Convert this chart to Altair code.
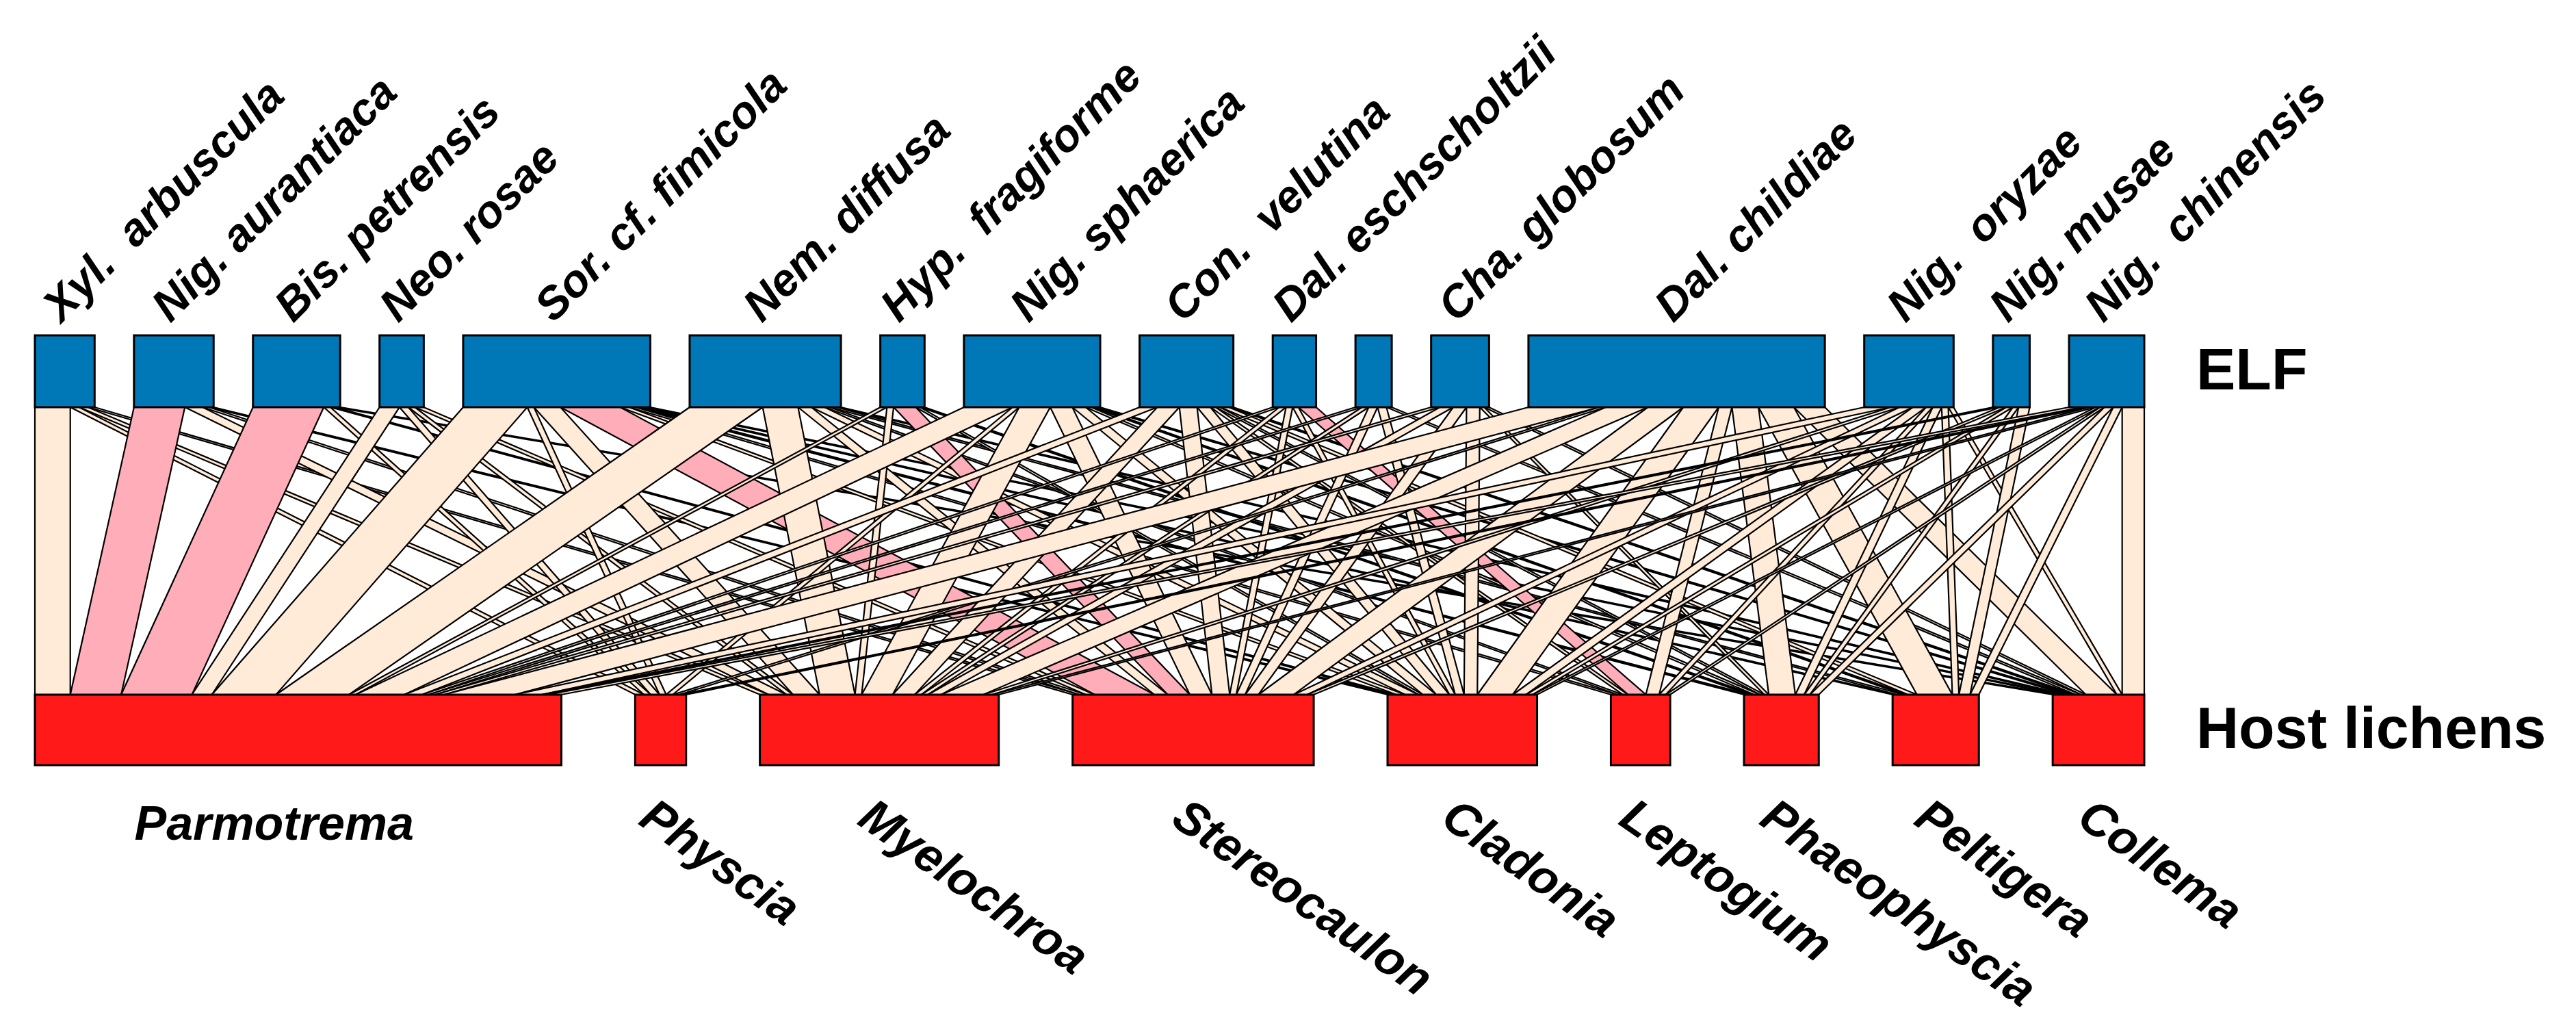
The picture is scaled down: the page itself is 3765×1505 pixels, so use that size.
import altair as alt
import numpy as np
import pandas as pd

# ---------------- data ----------------
elf_species = ["Xyl.\u00a0\u00a0arbuscula", "Nig. aurantiaca", "Bis. petrensis", "Neo. rosae",
               "Sor. cf. fimicola", "Nem. diffusa", "Hyp.\u00a0\u00a0fragiforme", "Nig. sphaerica",
               "Con.\u00a0\u00a0velutina", "Dal. eschscholtzii", "", "Cha. globosum",
               "Dal. childiae", "Nig.\u00a0\u00a0oryzae", "Nig. musae", "Nig.\u00a0\u00a0chinensis"]
host_genera = ["Parmotrema", "Physcia", "Myelochroa", "Stereocaulon", "Cladonia",
               "Leptogium", "Phaeophyscia", "Peltigera", "Collema"]

# interaction strengths of each ELF species with the host genera (host order as above)
xyl_arbuscula = [8, 2, 2, 1.5, 0, 0, 0, 0, 0]
nig_aurantiaca = [11.5, 0, 4, 1.5, 1, 0, 0, 0, 0]
bis_petrensis = [16, 1.5, 0, 0, 1, 0, 0, 0, 1.2]
neo_rosae = [4.5, 2, 1.5, 2, 0, 0, 0, 0, 0]
sor_fimicola = [14.5, 1.5, 6, 13.5, 2, 1.5, 1.3, 1, 1]
nem_diffusa = [16.5, 0, 8, 3, 3, 1.2, 0, 1.5, 1]
hyp_fragiforme = [1.5, 0, 1.5, 5, 1, 0, 1, 0, 0]
nig_sphaerica = [11, 1.5, 7, 5, 3, 0, 1.3, 1, 1]
con_velutina = [4, 0, 5, 4, 3, 1.2, 1, 2, 1]
dal_eschscholtzii = [1.5, 0, 1.5, 1.5, 1.3, 4, 0, 0, 0]
unlabelled_elf = [1.5, 0, 1.5, 2, 2, 0, 0, 0, 1.2]
cha_globosum = [2, 0, 3, 3, 3, 0, 1, 0, 1.1]
dal_childiae = [16, 1.5, 9.5, 8, 8, 3, 6, 8, 7]
nig_oryzae = [6, 0, 2, 3, 3, 1.5, 2, 1.5, 1.2]
nig_musae = [1.5, 0, 0, 1.5, 1.5, 0, 1.3, 2.5, 0]
nig_chinensis = [3, 1.5, 1.5, 0, 1, 1, 2, 2, 5]

highlighted_links = [(1, 0), (2, 0), (4, 3), (6, 3), (9, 5)]  # (ELF index, host index)

rows = [xyl_arbuscula, nig_aurantiaca, bis_petrensis, neo_rosae, sor_fimicola, nem_diffusa,
        hyp_fragiforme, nig_sphaerica, con_velutina, dal_eschscholtzii, unlabelled_elf,
        cha_globosum, dal_childiae, nig_oryzae, nig_musae, nig_chinensis]
M = np.array(rows, dtype=float)

# ---------------- layout (plotweb style) ----------------
W, H = 3745, 1488
T = M.sum()
row_tot = M.sum(axis=1)
col_tot = M.sum(axis=0)
gap_top = 8.9
S = T + gap_top * (len(elf_species) - 1)
gap_bot = (S - T) / (len(host_genera) - 1)
top_start = np.concatenate([[0], np.cumsum(row_tot + gap_top)[:-1]])
bot_start = np.concatenate([[0], np.cumsum(col_tot + gap_bot)[:-1]])

kx = 3083.0 / S          # pixels per unit
left_px = 43.0
xdom = [-left_px / kx, (W - left_px) / kx]

TOP_Y0, TOP_Y1 = 482, 587
BOT_Y0, BOT_Y1 = 1007, 1110

xs = alt.Scale(domain=xdom)
ys = alt.Scale(domain=[0, H], reverse=True)

# links
recs = []
k = 0
hl = set(highlighted_links)
for i in range(M.shape[0]):
    for j in range(M.shape[1]):
        v = M[i, j]
        if v <= 0:
            continue
        xt = top_start[i] + M[i, :j].sum()
        xb = bot_start[j] + M[:i, j].sum()
        kind = "pink" if (i, j) in hl else "peach"
        recs.append(dict(id=k, y=TOP_Y1, x=xt, x2=xt + v, kind=kind))
        recs.append(dict(id=k, y=BOT_Y0, x=xb, x2=xb + v, kind=kind))
        k += 1
links = pd.DataFrame(recs)

top_df = pd.DataFrame(dict(name=elf_species, x=top_start, x2=top_start + row_tot,
                           y=TOP_Y0, y2=TOP_Y1))
top_df["cx"] = (top_df.x + top_df.x2) / 2 - 5 / kx
top_df["ly"] = 465

bot_df = pd.DataFrame(dict(name=host_genera, x=bot_start, x2=bot_start + col_tot,
                           y=BOT_Y0, y2=BOT_Y1))
bot_df["cx"] = (bot_df.x + bot_df.x2) / 2 - 3 / kx
bot_df["ly"] = 1150

link_layer = alt.Chart(links).mark_area(orient="horizontal", stroke="black",
                                        strokeWidth=2.2, opacity=1).encode(
    x=alt.X("x:Q", scale=xs, axis=None, stack=None),
    x2="x2:Q",
    y=alt.Y("y:Q", scale=ys, axis=None),
    detail="id:N",
    order="id:Q",
    color=alt.Color("kind:N", scale=alt.Scale(domain=["peach", "pink"],
                                              range=["#FFEBD7", "#FFAEB9"]), legend=None),
)

top_boxes = alt.Chart(top_df).mark_rect(fill="#0077B6", stroke="black", strokeWidth=3).encode(
    x=alt.X("x:Q", scale=xs, axis=None), x2="x2:Q",
    y=alt.Y("y:Q", scale=ys, axis=None), y2="y2:Q")

bot_boxes = alt.Chart(bot_df).mark_rect(fill="#FF1919", stroke="black", strokeWidth=3).encode(
    x=alt.X("x:Q", scale=xs, axis=None), x2="x2:Q",
    y=alt.Y("y:Q", scale=ys, axis=None), y2="y2:Q")

top_text = alt.Chart(top_df).mark_text(font="Liberation Sans", fontWeight="bold",
                                       fontStyle="italic", fontSize=66, angle=315,
                                       align="left", baseline="alphabetic").encode(
    x=alt.X("cx:Q", scale=xs, axis=None), y=alt.Y("ly:Q", scale=ys, axis=None), text="name:N")

bot_rot = bot_df[bot_df.name != "Parmotrema"]
bot_text = alt.Chart(bot_rot).mark_text(font="Liberation Sans", fontWeight="bold",
                                        fontStyle="italic", fontSize=70, angle=35,
                                        align="left", baseline="top").encode(
    x=alt.X("cx:Q", scale=xs, axis=None), y=alt.Y("ly:Q", scale=ys, axis=None), text="name:N")

parm = bot_df[bot_df.name == "Parmotrema"].copy()
parm["cx"] = (parm.x + parm.x2) / 2 - 35 / kx
parm["ly"] = 1219
parm_text = alt.Chart(parm).mark_text(font="Liberation Sans", fontWeight="bold",
                                      fontStyle="italic", fontSize=70,
                                      align="center", baseline="alphabetic").encode(
    x=alt.X("cx:Q", scale=xs, axis=None), y=alt.Y("ly:Q", scale=ys, axis=None), text="name:N")

side_df = pd.DataFrame(dict(name=["ELF", "Host lichens"],
                            x=[S + 76 / kx] * 2,
                            y=[(TOP_Y0 + TOP_Y1) / 2, (BOT_Y0 + BOT_Y1) / 2]))
side_text = alt.Chart(side_df).mark_text(font="Liberation Sans", fontWeight="bold",
                                         fontSize=86, align="left", baseline="middle").encode(
    x=alt.X("x:Q", scale=xs, axis=None), y=alt.Y("y:Q", scale=ys, axis=None), text="name:N")

chart = alt.layer(link_layer, top_boxes, bot_boxes, top_text, bot_text, parm_text, side_text).properties(
    width=W, height=H, autosize=alt.AutoSizeParams(type="none"), padding=0,
    background="white"
).configure_view(stroke=None)

chart.save("out.html", embed_options={"renderer": "svg", "actions": False})
